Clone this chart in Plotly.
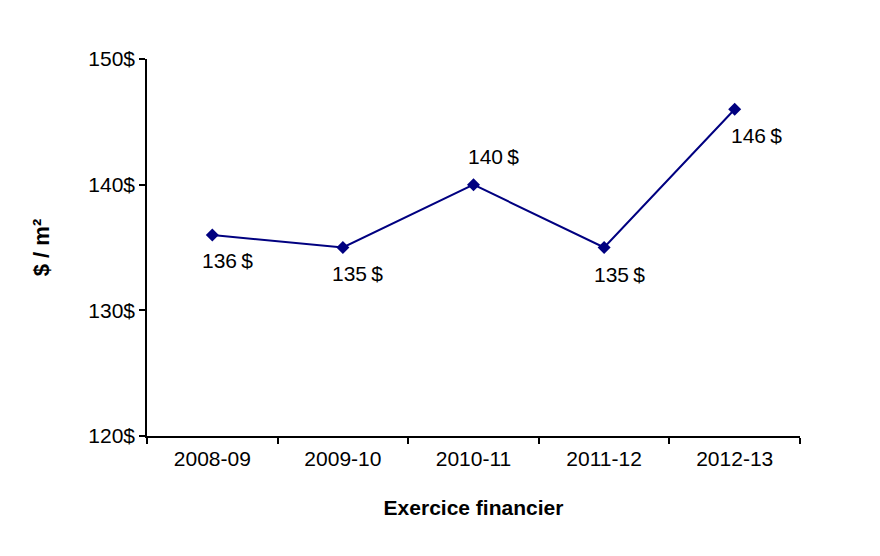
import plotly.graph_objects as go

categories = ["2008-09", "2009-10", "2010-11", "2011-12", "2012-13"]
values = [136, 135, 140, 135, 146]
labels = ["136\u2009$", "135\u2009$", "140\u2009$", "135\u2009$", "146\u2009$"]
y_ticks = [120, 130, 140, 150]
y_tick_labels = ["120$", "130$", "140$", "150$"]
label_offsets = [(15, -26), (15, -26), (20, 28), (15, -27), (22, -26)]

fig = go.Figure()
fig.add_trace(go.Scatter(
    x=categories, y=values, mode="lines+markers",
    line=dict(color="#000080", width=2),
    marker=dict(symbol="diamond", size=10, color="#000080"),
    hoverinfo="skip",
))

for c, v, t, (dx, dy) in zip(categories, values, labels, label_offsets):
    fig.add_annotation(x=c, y=v, text=t, showarrow=False, xshift=dx, yshift=dy,
                       font=dict(family="Liberation Sans, Arial", size=21, color="black"))

fig.update_layout(
    width=880, height=556,
    margin=dict(l=147, r=80, t=59, b=120),
    paper_bgcolor="white", plot_bgcolor="white",
    showlegend=False,
    font=dict(family="Liberation Sans, Arial", size=21, color="black"),
    xaxis=dict(
        type="category", range=[-0.5, 4.5], tickson="boundaries",
        showline=True, linecolor="black", linewidth=1.5,
        ticks="outside", ticklen=6, tickcolor="black", tickwidth=1.5,
        ticklabelstandoff=3,
        showgrid=False, zeroline=False,
        title=dict(text="<b>Exercice financier</b>", font=dict(size=21), standoff=31),
    ),
    yaxis=dict(
        range=[120, 150], tickvals=y_ticks, ticktext=y_tick_labels,
        showline=True, linecolor="black", linewidth=1.5,
        ticks="outside", ticklen=6, tickcolor="black", tickwidth=1.5,
        showgrid=False, zeroline=False,
        title=dict(text="<b>$ / m²</b>", font=dict(size=22), standoff=33),
    ),
)

fig.write_html("out.html")
